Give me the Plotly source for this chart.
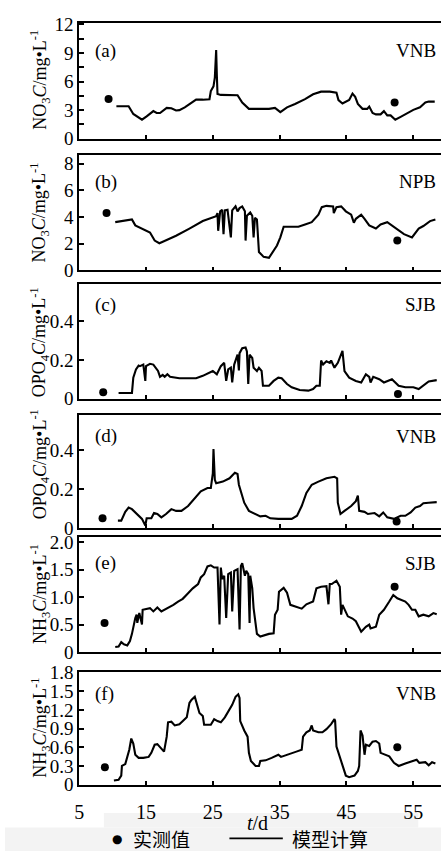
import plotly.graph_objects as go

W, H = 441, 862

# ---------------- data ----------------
# (a) NO3 - VNB
a_t = [10.57, 12.4, 13.1, 14.4, 15.1, 16.1, 16.6, 17.1, 18.1, 18.8, 19.5, 20.0, 20.8, 21.8, 22.5, 23.5,
       24.5, 24.7, 25.1, 25.3, 25.5, 25.6, 25.7, 26.2, 28.7, 29.4, 30.4, 33.4, 34.3, 35.1, 36.1, 37.3,
       38.8, 40.0, 41.2, 42.5, 43.5, 43.8, 44.4, 45.4, 45.9, 46.3, 46.7, 47.4, 48.1, 48.4, 48.9, 49.4,
       50.1, 50.6, 51.1, 51.6, 52.3, 53.1, 55.0, 56.0, 56.8, 57.3, 58.2]
a_v = [3.41, 3.41, 2.6, 2.0, 2.35, 2.9, 2.7, 2.7, 3.24, 3.2, 2.97, 3.0, 3.3, 3.8, 4.1, 4.1,
       4.15, 5.0, 5.5, 6.4, 9.3, 6.7, 4.7, 4.6, 4.57, 3.8, 3.14, 3.14, 3.24, 2.8, 3.3, 3.65,
       4.16, 4.67, 4.94, 4.94, 4.84, 4.06, 3.7, 4.06, 4.74, 4.4, 3.65, 3.14, 3.14, 3.38, 2.7, 2.56,
       2.56, 2.9, 2.45, 2.45, 2.0, 2.3, 3.03, 3.3, 3.8, 3.9, 3.9]
a_obs_t = [9.4, 52.2]
a_obs_v = [4.16, 3.8]

# (b) NO3 - NPB
b_t = [10.4, 11.2, 12.9, 13.4, 14.4, 15.6, 16.3, 17.0, 17.6, 19.5, 21.5, 23.5, 25.5, 25.7, 25.8, 26.1,
       26.4, 26.6, 26.8, 27.2, 27.7, 27.9, 28.4, 28.7, 29.0, 29.4, 29.8, 29.9, 30.1, 30.6, 30.9, 31.1,
       31.3, 31.6, 31.9, 32.6, 33.4, 33.8, 34.6, 35.1, 35.6, 36.8, 37.8, 38.8, 39.8, 40.8, 41.3, 42.0,
       43.0, 43.1, 43.5, 44.2, 44.9, 45.7, 46.1, 46.4, 47.2, 47.7, 48.4, 49.4, 50.1, 51.1, 51.8, 52.8,
       53.6, 54.8, 55.8, 56.5, 57.5, 58.3]
b_v = [3.62, 3.7, 3.82, 3.38, 3.14, 2.85, 2.24, 2.04, 2.17, 2.6, 3.14, 3.7, 4.06, 4.3, 2.97, 4.43,
       4.55, 2.72, 4.5, 4.55, 2.48, 4.5, 4.8, 4.43, 4.67, 4.8, 4.43, 2.24, 4.1, 4.35, 4.1, 2.48,
       3.94, 3.82, 1.39, 1.02, 0.95, 1.27, 1.87, 2.48, 3.28, 3.28, 3.28, 3.45, 3.62, 4.18, 4.74, 4.84,
       4.8, 4.3, 4.74, 4.8, 4.43, 4.18, 3.58, 3.87, 4.18, 3.87, 3.38, 3.14, 3.45, 3.62, 3.38, 2.97,
       2.72, 2.48, 3.14, 3.33, 3.7, 3.82]
b_obs_t = [9.1, 52.6]
b_obs_v = [4.3, 2.24]

# (c) OPO4 - SJB
c_t = [10.9, 12.9, 13.1, 13.5, 13.9, 14.1, 14.6, 14.9, 15.0, 15.6, 16.1, 16.8, 17.1, 17.5, 17.8, 18.2,
       18.6, 20.0, 22.5, 23.5, 25.0, 25.6, 26.2, 26.7, 27.0, 27.3, 27.7, 27.9, 28.2, 28.7, 28.9, 29.0,
       29.4, 29.9, 30.1, 30.3, 30.5, 30.9, 31.1, 31.4, 31.6, 31.9, 32.3, 32.5, 33.4, 34.1, 34.8, 35.3,
       36.1, 36.8, 38.0, 39.3, 40.0, 40.5, 41.0, 41.2, 41.5, 42.0, 42.5, 42.7, 43.2, 43.7, 44.2, 44.4,
       44.7, 45.4, 46.4, 47.2, 47.9, 48.4, 48.6, 49.0, 49.9, 50.6, 51.8, 52.8, 53.8, 55.0, 55.8, 56.5,
       57.3, 58.5]
c_v = [0.030, 0.030, 0.109, 0.151, 0.171, 0.168, 0.176, 0.092, 0.168, 0.180, 0.176, 0.143, 0.113, 0.123, 0.113, 0.126,
       0.113, 0.106, 0.106, 0.118, 0.143, 0.126, 0.168, 0.185, 0.092, 0.151, 0.160, 0.084, 0.176, 0.227, 0.146, 0.235,
       0.260, 0.264, 0.244, 0.076, 0.227, 0.210, 0.160, 0.151, 0.143, 0.160, 0.143, 0.067, 0.067, 0.092, 0.109, 0.106,
       0.076, 0.059, 0.045, 0.042, 0.050, 0.067, 0.067, 0.197, 0.176, 0.193, 0.185, 0.197, 0.160, 0.185, 0.227, 0.247,
       0.143, 0.109, 0.092, 0.084, 0.126, 0.113, 0.084, 0.113, 0.101, 0.084, 0.101, 0.067, 0.059, 0.059, 0.050, 0.067,
       0.089, 0.096]
c_obs_t = [8.6, 52.7]
c_obs_v = [0.034, 0.025]

# (d) OPO4 - VNB
d_t = [10.8, 11.3, 11.9, 12.4, 12.9, 13.6, 14.4, 14.9, 15.1, 15.8, 16.2, 16.7, 17.3, 18.0, 18.8, 19.5,
       20.3, 21.3, 22.3, 23.2, 24.2, 24.7, 25.0, 25.1, 25.3, 25.5, 26.5, 27.5, 28.3, 28.7, 28.9, 29.3,
       29.7, 30.4, 31.4, 32.1, 32.9, 33.6, 34.8, 36.8, 37.6, 38.3, 39.0, 39.8, 40.8, 42.0, 43.2, 43.6,
       43.7, 44.1, 44.7, 45.7, 46.4, 46.7, 46.9, 47.7, 48.2, 49.2, 49.9, 50.5, 51.1, 52.1, 53.1, 53.8,
       54.6, 55.3, 56.0, 56.5, 57.3, 58.5]
d_v = [0.038, 0.038, 0.083, 0.105, 0.097, 0.072, 0.047, 0.013, 0.050, 0.050, 0.077, 0.072, 0.055, 0.072, 0.097, 0.088,
       0.088, 0.113, 0.155, 0.188, 0.205, 0.205, 0.280, 0.405, 0.247, 0.230, 0.238, 0.255, 0.283, 0.277, 0.222, 0.180,
       0.130, 0.088, 0.072, 0.060, 0.063, 0.050, 0.047, 0.047, 0.063, 0.113, 0.180, 0.222, 0.238, 0.255, 0.263, 0.255,
       0.130, 0.072, 0.088, 0.113, 0.138, 0.167, 0.088, 0.083, 0.072, 0.077, 0.060, 0.080, 0.055, 0.047, 0.063, 0.063,
       0.080, 0.105, 0.113, 0.127, 0.130, 0.133]
d_obs_t = [8.5, 52.5]
d_obs_v = [0.050, 0.033]

# (e) NH3 - SJB
e_t = [10.4, 10.9, 11.3, 11.7, 12.2, 12.6, 12.9, 13.1, 13.4, 13.6, 13.7, 14.0, 14.4, 14.5, 15.6, 16.1,
       16.7, 17.3, 18.1, 19.1, 19.8, 20.5, 21.3, 22.0, 22.8, 23.2, 23.7, 24.2, 24.7, 25.2, 25.7, 26.0,
       26.2, 26.4, 26.7, 27.0, 27.3, 27.7, 27.9, 28.2, 28.7, 29.0, 29.2, 29.4, 29.8, 30.0, 30.3, 30.5,
       30.6, 30.9, 31.1, 31.4, 31.6, 32.1, 33.4, 34.1, 34.3, 34.7, 34.9, 35.6, 36.1, 36.6, 37.3, 38.3,
       39.0, 40.0, 40.5, 41.2, 42.0, 42.3, 42.5, 42.8, 43.5, 44.0, 44.2, 44.4, 45.2, 45.9, 46.4, 47.2,
       47.9, 48.4, 48.6, 49.4, 49.9, 50.6, 51.4, 52.0, 52.6, 53.1, 53.8, 54.3, 54.8, 55.3, 55.8, 56.5,
       57.3, 58.0, 58.5]
e_v = [0.09, 0.10, 0.18, 0.14, 0.12, 0.20, 0.33, 0.46, 0.62, 0.68, 0.53, 0.71, 0.50, 0.77, 0.80, 0.74,
       0.81, 0.74, 0.79, 0.86, 0.92, 0.97, 1.07, 1.16, 1.24, 1.36, 1.42, 1.56, 1.58, 1.54, 1.54, 0.50,
       1.54, 1.33, 1.39, 0.62, 1.42, 1.45, 0.74, 1.48, 1.51, 0.41, 1.57, 1.62, 1.39, 1.48, 1.42, 0.53,
       1.39, 1.16, 0.80, 0.50, 0.33, 0.28, 0.33, 0.34, 0.68, 0.77, 1.10, 1.17, 1.08, 0.86, 0.83, 0.79,
       0.87, 0.92, 1.16, 1.19, 1.20, 0.87, 1.24, 1.24, 1.30, 1.19, 0.68, 0.86, 0.65, 0.61, 0.56, 0.37,
       0.46, 0.50, 0.43, 0.46, 0.68, 0.77, 0.92, 1.04, 0.98, 0.95, 0.92, 0.86, 0.77, 0.77, 0.65, 0.68,
       0.65, 0.71, 0.69]
e_obs_t = [8.8, 52.2]
e_obs_v = [0.53, 1.19]

# (f) NH3 - VNB
f_t = [10.2, 10.9, 11.3, 11.4, 11.9, 12.2, 12.5, 12.8, 13.1, 13.4, 13.9, 14.6, 15.4, 15.8, 16.3, 16.7,
       17.3, 17.7, 18.1, 18.3, 18.8, 19.3, 20.0, 20.8, 21.1, 21.5, 21.8, 22.3, 22.6, 23.0, 23.5, 23.7,
       24.7, 25.2, 25.7, 26.2, 26.8, 27.4, 27.9, 28.4, 28.8, 29.0, 29.1, 29.7, 30.2, 30.4, 30.7, 31.4,
       31.9, 32.1, 32.9, 33.8, 34.8, 35.2, 36.3, 37.5, 38.3, 38.5, 39.0, 39.5, 39.8, 40.0, 40.8, 41.4,
       42.0, 42.7, 43.2, 43.3, 43.5, 44.0, 44.5, 44.9, 45.4, 46.2, 46.7, 46.9, 47.1, 47.4, 47.7, 47.9,
       48.4, 48.9, 49.4, 49.9, 50.1, 50.9, 51.4, 52.1, 52.8, 53.8, 54.8, 55.5, 55.9, 56.8, 57.3, 57.8,
       58.3]
f_v = [0.067, 0.078, 0.145, 0.30, 0.33, 0.43, 0.56, 0.74, 0.66, 0.48, 0.43, 0.43, 0.445, 0.51, 0.64, 0.65,
       0.58, 0.53, 0.77, 1.00, 1.01, 0.95, 0.97, 1.05, 1.08, 1.31, 1.36, 1.41, 1.31, 1.15, 1.10, 0.96,
       0.96, 1.05, 1.02, 1.00, 1.08, 1.20, 1.28, 1.41, 1.45, 1.39, 1.02, 0.87, 0.77, 0.51, 0.38, 0.30,
       0.30, 0.38, 0.39, 0.43, 0.48, 0.445, 0.48, 0.53, 0.56, 0.77, 0.84, 0.87, 0.95, 0.87, 0.84, 0.84,
       0.89, 0.97, 1.05, 1.02, 0.61, 0.43, 0.27, 0.145, 0.12, 0.145, 0.22, 0.30, 0.87, 0.79, 0.48, 0.64,
       0.62, 0.69, 0.70, 0.66, 0.51, 0.48, 0.455, 0.35, 0.30, 0.34, 0.38, 0.40, 0.35, 0.36, 0.31, 0.36,
       0.34]
f_obs_t = [8.85, 52.6]
f_obs_v = [0.28, 0.60]

x_tick_vals = [5, 15, 25, 35, 45, 55]
x_tick_text = ["5", "15", "25", "35", "45", "55"]
x_range = [5, 59.14]

panel_letters = ["(a)", "(b)", "(c)", "(d)", "(e)", "(f)"]
stations = ["VNB", "NPB", "SJB", "VNB", "SJB", "VNB"]
y_titles = ["NO<sub>3</sub><i>C</i>/mg•L<sup>-1</sup>",
            "NO<sub>3</sub><i>C</i>/mg•L<sup>-1</sup>",
            "OPO<sub>4</sub><i>C</i>/mg•L<sup>-1</sup>",
            "OPO<sub>4</sub><i>C</i>/mg•L<sup>-1</sup>",
            "NH<sub>3</sub><i>C</i>/mg•L<sup>-1</sup>",
            "NH<sub>3</sub><i>C</i>/mg•L<sup>-1</sup>"]
y_ticks = [[0, 3, 6, 9, 12], [0, 2, 4, 6, 8], [0, 0.2, 0.4], [0, 0.2, 0.4],
           [0, 0.5, 1.0, 1.5, 2.0], [0, 0.3, 0.6, 0.9, 1.2, 1.5, 1.8]]
y_tick_text = [["0", "3", "6", "9", "12"], ["0", "2", "4", "6", "8"], ["0", "0.2", "0.4"],
               ["0", "0.2", "0.4"], ["0", "0.5", "1.0", "1.5", "2.0"],
               ["0", "0.3", "0.6", "0.9", "1.2", "1.5", "1.8"]]
y_ranges = [[0, 12.17], [0, 8.62], [0, 0.59], [0, 0.58], [0, 2.1], [0, 1.8]]

series = [(a_t, a_v, a_obs_t, a_obs_v), (b_t, b_v, b_obs_t, b_obs_v), (c_t, c_v, c_obs_t, c_obs_v),
          (d_t, d_v, d_obs_t, d_obs_v), (e_t, e_v, e_obs_t, e_obs_v), (f_t, f_v, f_obs_t, f_obs_v)]

# ---------------- layout geometry (pixels) ----------------
panel_px = [(13, 132), (149, 267), (281, 398.5), (415, 531), (540, 658), (679, 794)]
left_px = 75

def py(p):
    return 1 - p / H

def pxx(p):
    return p / W

FONT = "Liberation Serif, Times New Roman, serif"
CJK = "Noto Sans CJK SC, sans-serif"

fig = go.Figure()
layout = dict(
    width=W, height=H, margin=dict(l=0, r=0, t=0, b=0),
    paper_bgcolor="white", plot_bgcolor="white", showlegend=False,
    font=dict(family=FONT, size=19, color="black"),
)
annotations = []
shapes = []

lab_offsets = [29, 27, 21, 22, 27, 22]
title_centers = [72, 208, 341, 466, 599, 736]

for i, (t, v, ot, ov) in enumerate(series):
    n = "" if i == 0 else str(i + 1)
    xa, ya = "x" + n, "y" + n
    fig.add_trace(go.Scatter(x=t, y=v, mode="lines", line=dict(color="black", width=2.1),
                             xaxis=xa, yaxis=ya, name="模型计算"))
    fig.add_trace(go.Scatter(x=ot, y=ov, mode="markers", marker=dict(color="black", size=8),
                             xaxis=xa, yaxis=ya, name="实测值"))
    top, bot = panel_px[i]
    last = (i == 5)
    layout["xaxis" + n] = dict(
        domain=[pxx(left_px), 1.0], range=x_range, anchor=ya,
        tickvals=x_tick_vals, ticktext=x_tick_text, showticklabels=last,
        ticks="inside", ticklen=4, tickwidth=1.5, tickcolor="black",
        showline=True, linecolor="black", linewidth=1.8, mirror=True,
        showgrid=False, zeroline=False, tickfont=dict(size=20, family=FONT),
        ticklabelstandoff=8,
        **({"matches": "x"} if i > 0 else {}),
    )
    yax = dict(
        domain=[py(bot), py(top)], range=y_ranges[i], anchor=xa,
        tickvals=y_ticks[i], ticktext=y_tick_text[i],
        ticks="inside", ticklen=5, tickwidth=1.5, tickcolor="black",
        showline=True, linecolor="black", linewidth=1.8, mirror=False,
        showgrid=False, zeroline=False, tickfont=dict(size=19, family=FONT),
    )
    if i == 0:
        yax["minor"] = dict(dtick=1.5, tick0=0, ticks="inside", ticklen=5, tickwidth=1.5, tickcolor="black")
    layout["yaxis" + n] = yax

    # panel letter and station
    annotations.append(dict(text=panel_letters[i], xref="paper", yref="paper",
                            x=pxx(89), y=py(top + lab_offsets[i]), xanchor="left", yanchor="middle",
                            showarrow=False, font=dict(size=19, family=FONT)))
    annotations.append(dict(text=stations[i], xref="paper", yref="paper",
                            x=pxx(438), y=py(top + lab_offsets[i]), xanchor="right", yanchor="middle",
                            showarrow=False, font=dict(size=19, family=FONT)))
    # y title
    annotations.append(dict(text=y_titles[i], xref="paper", yref="paper", textangle=-90,
                            x=pxx(35), y=py(title_centers[i]), xanchor="center", yanchor="middle",
                            showarrow=False, font=dict(size=18, family=FONT)))

# x-axis title
annotations.append(dict(text="<i>t</i>/d", xref="paper", yref="paper", x=pxx(255), y=py(833),
                        xanchor="center", yanchor="middle", showarrow=False,
                        font=dict(size=20, family=FONT)))
# legend (drawn manually)
annotations.append(dict(text="●", xref="paper", yref="paper", x=pxx(113), y=py(850),
                        xanchor="center", yanchor="middle", showarrow=False,
                        font=dict(size=12, family="DejaVu Sans")))
annotations.append(dict(text="实测值", xref="paper", yref="paper", x=pxx(127), y=py(849),
                        xanchor="left", yanchor="middle", showarrow=False,
                        font=dict(size=19, family=CJK)))
annotations.append(dict(text="模型计算", xref="paper", yref="paper", x=pxx(288), y=py(849),
                        xanchor="left", yanchor="middle", showarrow=False,
                        font=dict(size=19, family=CJK)))
shapes.append(dict(type="line", xref="paper", yref="paper", x0=pxx(227), x1=pxx(281),
                   y0=py(849), y1=py(849), line=dict(color="black", width=1.8)))
# faint scan-grey band behind legend
shapes.append(dict(type="rect", xref="paper", yref="paper", x0=pxx(100), x1=pxx(418),
                   y0=py(838), y1=py(823), fillcolor="#f3f3f3", line=dict(width=0), layer="below"))
shapes.append(dict(type="rect", xref="paper", yref="paper", x0=0, x1=1,
                   y0=0, y1=py(838), fillcolor="#f3f3f3", line=dict(width=0), layer="below"))

layout["annotations"] = annotations
layout["shapes"] = shapes
fig.update_layout(**layout)
fig.write_html("out.html")
